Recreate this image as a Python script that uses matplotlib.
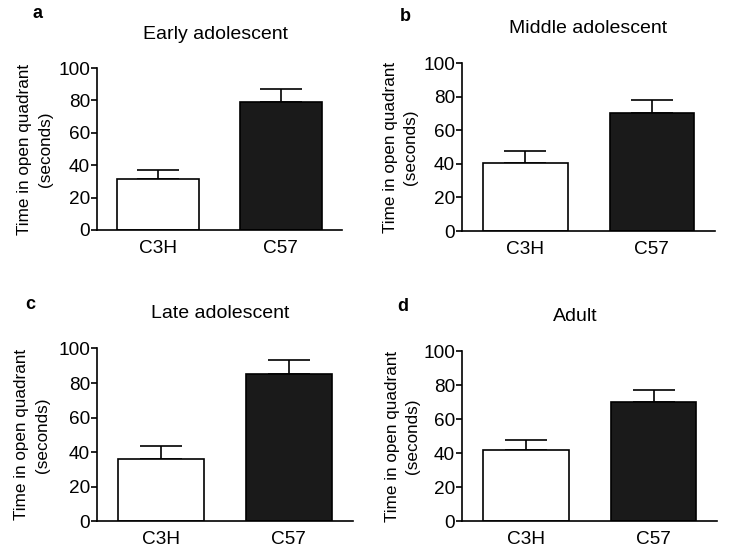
import numpy as np
import matplotlib
matplotlib.use("Agg")
import matplotlib.pyplot as plt

plt.rcParams['font.family'] = ['Liberation Sans', 'DejaVu Sans']

# data
strains = ['C3H', 'C57']
titles = ['Early adolescent', 'Middle adolescent', 'Late adolescent', 'Adult']
letters = ['a', 'b', 'c', 'd']
means = [[31.3, 79.2], [40.5, 70.4], [36.3, 85.3], [42.1, 70.0]]
sems = [[6.0, 8.0], [7.1, 7.4], [7.2, 8.2], [5.9, 7.0]]
yticks = [0, 20, 40, 60, 80, 100]

# layout (figure fractions)
axes_pos = [
    [0.133, 0.585, 0.336, 0.292],
    [0.634, 0.583, 0.347, 0.303],
    [0.133, 0.059, 0.351, 0.312],
    [0.634, 0.059, 0.350, 0.307],
]
title_pos = [(0.295, 0.937), (0.807, 0.948), (0.302, 0.434), (0.789, 0.428)]
letter_pos = [(0.051, 0.975), (0.556, 0.971), (0.041, 0.451), (0.553, 0.446)]
label_x = [-0.18, -0.174, -0.184, -0.165]

fig = plt.figure(figsize=(7.29, 5.54), dpi=100)

for i in range(4):
    ax = fig.add_axes(axes_pos[i])
    x = np.arange(len(strains))
    ax.bar(x, means[i], width=0.67, color=['white', '#1a1a1a'],
           edgecolor='black', linewidth=1.2, zorder=2)
    err = np.array([[0, 0], sems[i]])
    ax.errorbar(x, means[i], yerr=err, fmt='none', ecolor='black',
                elinewidth=1.2, capsize=15, capthick=1.2, zorder=1)
    ax.set_xlim(-0.5, 1.5)
    ax.set_ylim(0, 100)
    ax.set_yticks(yticks)
    ax.set_xticks(x)
    ax.set_xticklabels(strains)
    for s in ['top', 'right']:
        ax.spines[s].set_visible(False)
    for s in ['left', 'bottom']:
        ax.spines[s].set_linewidth(1.2)
    ax.tick_params(axis='y', direction='out', length=4, width=1.2,
                   labelsize=13.7, pad=1)
    ax.tick_params(axis='x', length=0, labelsize=13.7, pad=7)
    ax.set_ylabel('Time in open quadrant\n(seconds)', fontsize=12.3,
                  linespacing=1.45)
    ax.yaxis.set_label_coords(label_x[i], 0.5)
    fig.text(title_pos[i][0], title_pos[i][1], titles[i], fontsize=14,
             ha='center', va='center')
    fig.text(letter_pos[i][0], letter_pos[i][1], letters[i], fontsize=13,
             fontweight='bold', ha='center', va='center')

fig.savefig('out.png', dpi=100)
